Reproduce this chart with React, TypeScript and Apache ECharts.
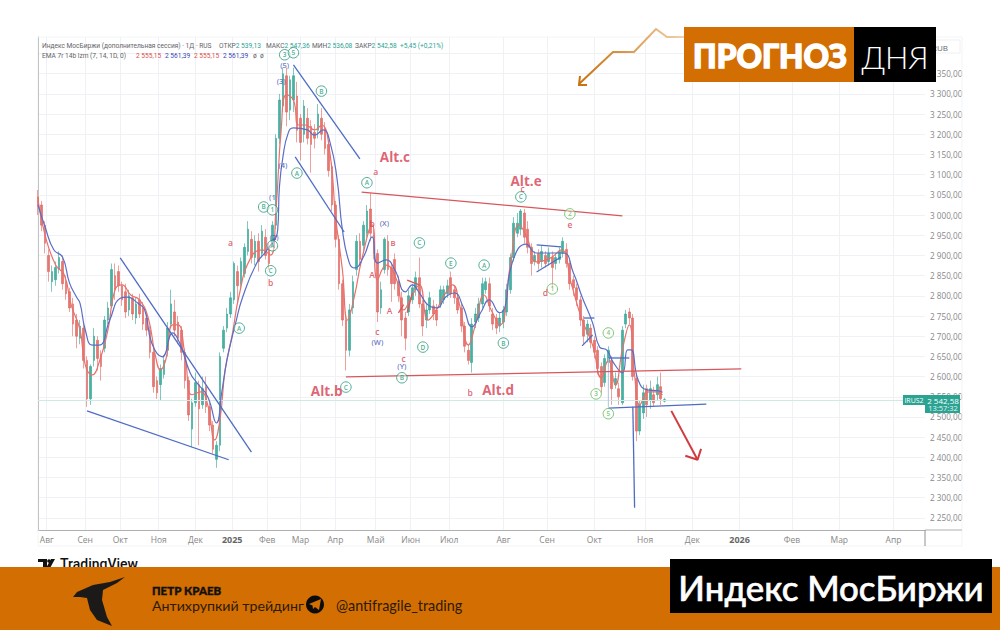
import React, { useEffect, useRef } from "react";
import * as echarts from "echarts";

// x axis is measured in trading sessions from the left edge of the pane
const SESSION_MAX = 507;
const PRICE_MIN = 2220;
const PRICE_MAX = 3441;
const CANDLE_STEP = 2;

const monthTicks: [number, string][] = [
  [5, "Авг"], [27, "Сен"], [47, "Окт"], [69, "Ноя"], [90, "Дек"], [111, "2025"], [131, "Фев"],
  [150, "Мар"], [170, "Апр"], [193, "Май"], [213, "Июн"], [235, "Июл"], [266, "Авг"], [291, "Сен"],
  [318, "Окт"], [347, "Ноя"], [374, "Дек"], [401, "2026"], [431, "Фев"], [458, "Мар"], [489, "Апр"],
];
const priceGrid = [2250, 2300, 2350, 2400, 2450, 2500, 2550, 2600, 2650, 2700, 2750, 2800, 2850, 2900, 2950, 3000, 3050, 3100, 3150, 3200, 3250, 3300, 3350, 3400];
const priceLabels = priceGrid.filter((p) => p <= 3350);

// open, close, low, high
const candles: number[][] = [
  [3045,3025,3000,3062],[3025,2975,2960,3035],[2975,2930,2905,2985],[2900,2860,2835,2915],[2835,2860,2810,2875],
  [2840,2870,2825,2885],[2865,2895,2855,2910],[2885,2830,2815,2900],[2835,2805,2790,2850],[2810,2770,2760,2820],
  [2780,2730,2700,2795],[2740,2700,2670,2755],[2695,2725,2680,2740],[2720,2640,2620,2730],[2640,2545,2525,2650],
  [2545,2625,2530,2630],[2640,2700,2625,2720],[2690,2645,2615,2700],[2655,2625,2590,2665],[2670,2740,2660,2750],
  [2740,2770,2730,2785],[2775,2865,2770,2880],[2850,2815,2790,2880],[2860,2825,2810,2875],[2825,2790,2775,2835],
  [2810,2760,2745,2830],[2765,2800,2750,2815],[2795,2755,2740,2805],[2745,2780,2730,2795],[2790,2755,2745,2805],
  [2770,2730,2715,2785],[2745,2715,2700,2760],[2715,2660,2645,2725],[2660,2575,2560,2670],[2590,2560,2545,2600],
  [2580,2620,2540,2630],[2605,2640,2595,2650],[2665,2720,2650,2735],[2730,2780,2720,2815],[2760,2715,2700,2790],
  [2735,2695,2680,2750],[2715,2660,2640,2725],[2660,2590,2570,2670],[2590,2505,2490,2600],[2470,2535,2425,2545],
  [2535,2585,2525,2610],[2580,2520,2430,2590],[2530,2570,2520,2600],[2575,2525,2510,2600],[2525,2480,2465,2535],
  [2480,2420,2410,2490],[2395,2430,2374,2440],[2430,2650,2415,2660],[2670,2715,2660,2725],[2720,2755,2710,2770],
  [2755,2795,2745,2810],[2790,2880,2780,2885],[2860,2825,2780,2875],[2830,2885,2820,2895],[2855,2920,2845,2930],
  [2910,2965,2900,2985],[2940,2895,2880,2960],[2895,2935,2875,2950],[2935,2885,2860,2955],[2905,2960,2895,2975],
  [2945,2900,2890,2965],[2920,2880,2865,2930],[2930,2975,2920,2985],[2975,3190,2965,3200],[3190,3285,3175,3300],
  [3270,3350,3255,3365],[3345,3255,3220,3365],[3260,3335,3235,3345],[3285,3345,3255,3365],[3295,3210,3180,3330],
  [3240,3180,3135,3250],[3200,3270,3180,3285],[3240,3190,3175,3265],[3220,3175,3105,3235],[3205,3190,3165,3225],
  [3210,3250,3190,3275],[3240,3200,3185,3265],[3215,3165,3150,3230],[3175,3110,3095,3185],[3120,3025,3010,3130],
  [3025,2940,2920,3035],[2940,2830,2815,2950],[2830,2740,2725,2840],[2740,2665,2615,2750],[2665,2765,2650,2780],
  [2770,2835,2755,2850],[2865,2935,2850,2950],[2935,2890,2875,2955],[2925,2975,2910,2985],[2955,3010,2945,3025],
  [3015,2955,2935,3055],[2950,2905,2890,2965],[2905,2760,2735,2915],[2770,2815,2755,2835],[2865,2940,2855,2945],
  [2935,2865,2850,2950],[2870,2830,2785,2880],[2890,2830,2815,2905],[2835,2800,2785,2850],[2795,2740,2700,2810],
  [2745,2695,2665,2760],[2760,2800,2750,2815],[2790,2820,2780,2830],[2815,2845,2800,2860],[2845,2780,2770,2895],
  [2780,2725,2700,2790],[2740,2765,2720,2780],[2765,2795,2755,2810],[2775,2755,2740,2790],[2765,2740,2725,2780],
  [2780,2815,2770,2825],[2790,2815,2780,2825],[2805,2825,2795,2840],[2845,2805,2795,2860],[2815,2795,2780,2825],
  [2795,2765,2755,2805],[2770,2725,2710,2780],[2725,2675,2660,2735],[2665,2640,2630,2680],[2635,2730,2610,2745],
  [2735,2755,2720,2770],[2745,2780,2735,2795],[2780,2830,2770,2845],[2815,2835,2805,2845],[2830,2775,2760,2845],
  [2755,2730,2715,2770],[2745,2720,2705,2755],[2725,2745,2710,2760],[2735,2765,2720,2775],[2760,2815,2750,2830],
  [2815,2895,2805,2905],[2895,2980,2885,2995],[2955,2980,2945,3005],[2965,3010,2950,3015],[3005,2945,2930,3015],
  [2965,2920,2905,2985],[2920,2880,2850,2930],[2885,2900,2875,2910],[2905,2880,2865,2915],[2885,2910,2870,2925],
  [2900,2880,2870,2910],[2885,2905,2875,2920],[2895,2870,2820,2910],[2880,2895,2865,2905],[2890,2910,2880,2920],
  [2905,2935,2895,2945],[2915,2880,2870,2930],[2880,2830,2815,2890],[2840,2820,2800,2850],[2820,2790,2775,2830],
  [2790,2740,2725,2800],[2740,2700,2680,2750],[2705,2730,2685,2740],[2720,2685,2670,2730],[2690,2660,2645,2700],
  [2665,2620,2605,2675],[2625,2575,2560,2635],[2585,2645,2575,2655],[2635,2665,2625,2675],[2640,2570,2530,2650],
  [2580,2595,2570,2610],[2570,2550,2530,2585],[2535,2715,2530,2725],[2730,2755,2720,2765],[2760,2745,2730,2770],
  [2745,2600,2590,2755],[2595,2465,2440,2605],[2465,2530,2455,2540],[2510,2560,2495,2580],[2570,2530,2500,2580],
  [2540,2570,2520,2590],[2555,2535,2525,2575],[2555,2580,2540,2600],[2575,2545,2530,2610],[2539,2543,2536,2547],
];

const ema7Points: number[][] = [
  [0,3038],[4,2951],[10,2877],[15,2852],[19,2777],[24,2716],[27,2629],[31,2604],[35,2636],[40,2716],[44,2815],[48,2827],
  [53,2802],[58,2790],[63,2745],[67,2654],[70,2617],[73,2641],[77,2728],[80,2728],[84,2654],[88,2555],[93,2562],[97,2530],
  [101,2443],[104,2493],[107,2617],[111,2703],[115,2802],[121,2889],[128,2914],[133,2901],[136,3013],[139,3211],[142,3298],
  [146,3285],[149,3223],[153,3223],[158,3211],[162,3223],[167,3149],[170,3000],[174,2864],[177,2740],[181,2802],[185,2889],
  [191,2976],[194,2839],[199,2876],[205,2839],[209,2765],[214,2802],[218,2827],[223,2740],[227,2760],[233,2807],[237,2827],
  [241,2777],[246,2678],[250,2728],[255,2802],[259,2765],[264,2728],[270,2876],[275,2976],[280,2938],[285,2884],[293,2894],
  [299,2914],[305,2827],[311,2740],[317,2678],[322,2597],[326,2641],[330,2579],[334,2666],[338,2728],[341,2604],[344,2530],
  [349,2562],[353,2562],[357,2555],
];
const ema14Points: number[][] = [
  [0,3025],[4,2971],[9,2914],[14,2896],[18,2832],[22,2797],[24,2782],[27,2716],[31,2678],[35,2678],[41,2740],[47,2794],
  [51,2797],[57,2782],[61,2765],[65,2683],[71,2649],[77,2708],[81,2683],[87,2609],[91,2584],[97,2550],[102,2485],[105,2560],
  [108,2641],[113,2733],[117,2797],[125,2881],[131,2914],[137,2963],[138,3070],[140,3144],[143,3203],[146,3216],[154,3211],
  [158,3198],[163,3211],[167,3179],[171,3087],[174,2963],[178,2881],[181,2869],[186,2896],[191,2946],[194,2881],[199,2889],
  [204,2864],[210,2810],[214,2827],[218,2807],[223,2777],[228,2770],[233,2797],[238,2807],[243,2773],[248,2723],[253,2758],
  [258,2790],[264,2758],[267,2773],[271,2881],[279,2928],[285,2906],[300,2906],[306,2857],[311,2797],[317,2733],[321,2673],
  [325,2666],[329,2634],[334,2609],[337,2666],[339,2666],[343,2592],[348,2567],[354,2565],[357,2561],
];

// session, price, session, price
const blueLines: number[][] = [
  [47,2894,122,2413],[28,2515,109,2394],[146,3372,184,3139],[147,3144,175,2958],
  [285,2926,299,2921],[285,2859,299,2896],[312,2745,318,2745],[311,2676,317,2703],
  [326,2646,338,2646],[326,2522,382,2532],[340,2525,341,2275],
];
const paleLines: number[][] = [[326,2646,326,2525]];
const redLines: number[][] = [
  [185,3057,334,2998],[176,2599,402,2619],[211,2839,218,2827],[206,2758,209,2778],[211,2758,214,2807],
];
const forecastArrow: number[][] = [[362,2515],[377,2394]];
const forecastHead: number[][] = [[370,2404],[377,2394],[379,2421]];

// label, session, price
const tealCircled: [string, number, number][] = [
  ["A",188,3080],["A",148,3104],["B",162,3307],["B",129,3020],["C",133,2862],["A",134,2924],["A",115,2720],
  ["C",218,2931],["E",236,2881],["A",255,2876],["D",220,2673],["B",266,2683],["C",276,3045],["B",208,2597],
  ["C",176,2574],["3",141,3397],["5",146,3402],["1",134,3013],
];
const greenCircled: [string, number, number][] = [
  ["2",304,3003],["1",294,2817],["4",326,2708],["3",319,2557],["5",326,2508],
];
const blueNotes: [string, number, number][] = [
  ["(5)",141,3372],["(3)",139,3332],["(1",134,3045],["(4)",140,3124],["(2)",135,2946],["(X)",198,2981],["(W)",194,2686],["(Y)",208,2626],
];
const redNotes: [string, number, number][] = [
  ["a",110,2931],["b",133,2832],["a",193,3107],["c",194,2711],["c",209,2644],["b",247,2560],["c",277,3065],
  ["d",290,2807],["e",304,2976],["в",203,2931],["A",191,2854],["A",201,2763],["b",191,2978],
];
const altNotes: [string, number, number][] = [
  ["Alt.c",204,3144],["Alt.e",279,3084],["Alt.b",165,2564],["Alt.d",263,2567],
];

const headerTitle = "Индекс МосБиржи (дополнительная сессия) · 1Д · RUS";
const headerValues: [string, string][] = [["ОТКР", "2 539,13"], ["МАКС", "2 547,36"], ["МИН", "2 536,08"], ["ЗАКР", "2 542,58"]];
const headerValueLeft = [219, 266, 312, 355];
const headerChange = "+5,45 (+0,21%)";
const emaTitle = "EMA 7r 14b lzm (7, 14, 1D, 0)";
const emaValues = ["2 555,15", "2 561,39", "2 555,15", "2 561,39"];
const emaValueLeft = [136, 165, 194, 223];
const lastPrice = 2542.58;

const ORANGE = "#d36e02";
const TEAL = "#2aa392";
const RED = "#e0605a";
const BLUE = "#4f6cc4";
const FONT = "'Open Sans', sans-serif";
const SMALL = "Roboto, sans-serif";
const HEAD_SIZE = 6.6;

const priceText = (v: number) => {
  const s = String(v);
  return s[0] + " " + s.slice(1) + ",00";
};

function notesSeries(items: [string, number, number][], opts: any) {
  return {
    type: "scatter",
    z: 8,
    silent: true,
    symbolSize: opts.circle ? 10.5 : 1,
    itemStyle: opts.circle
      ? { color: "rgba(255,255,255,0.55)", borderColor: opts.color, borderWidth: 1 }
      : { color: "transparent" },
    label: {
      show: true,
      position: "inside",
      color: opts.color,
      fontSize: opts.size,
      fontWeight: opts.weight || 400,
      fontFamily: FONT,
      formatter: (p: any) => p.data.name,
    },
    data: items.map(([name, s, p]) => ({ name, value: [s, p] })),
  };
}

function lineSeries(points: number[][], color: string, width: number, z = 6, smooth: number | boolean = false) {
  return {
    type: "line",
    z,
    silent: true,
    smooth,
    showSymbol: false,
    symbol: "none",
    lineStyle: { color, width },
    data: points,
  };
}

const segment = (l: number[]) => [[l[0], l[1]], [l[2], l[3]]];

const headText = (text: string, x: number, y: number, fill: string) => ({
  type: "text", z: 20, silent: true, x, y,
  style: { text, fill, fontSize: HEAD_SIZE, fontFamily: SMALL, verticalAlign: "middle" },
});
const headPair = (key: string, value: string, x: number, y: number) => ({
  type: "text", z: 20, silent: true, x, y,
  style: {
    text: "{k|" + key + "}{v|" + value + "}",
    verticalAlign: "middle",
    rich: {
      k: { fontSize: HEAD_SIZE, fontFamily: SMALL, fill: "#5f6368", color: "#5f6368" },
      v: { fontSize: HEAD_SIZE, fontFamily: SMALL, fill: TEAL, color: TEAL },
    },
  },
});

export default function App() {
  const ref = useRef<HTMLDivElement>(null);
  useEffect(() => {
    document.body.style.margin = "0";
    const chart = echarts.init(ref.current!, undefined, { renderer: "svg" });
    const tickValues = monthTicks.map((t) => t[0]);
    const tickLabel = new Map(monthTicks);
    const headerItems: any[] = [
      headText(headerTitle, 42, 46, "#5f6368"),
      ...headerValues.map(([k, v], i) => headPair(k, v, headerValueLeft[i], 46)),
      headText(headerChange, 400, 46, TEAL),
      headText(emaTitle, 42, 56, "#5f6368"),
      ...emaValues.map((v, i) => headText(v, emaValueLeft[i], 56, i % 2 ? "#3547b5" : "#d9504a")),
      headText("ø  ø", 253, 56, "#5f6368"),
    ];
    chart.setOption({
      animation: false,
      backgroundColor: "#ffffff",
      grid: { left: 38, right: 75, top: 37, bottom: 100 },
      xAxis: {
        type: "value",
        min: 0,
        max: SESSION_MAX,
        axisLine: { show: true, lineStyle: { color: "#b0b0b0", width: 1.2 } },
        axisTick: { show: false, customValues: tickValues },
        splitLine: { show: true, lineStyle: { color: "#eef1f5", width: 1 } },
        axisLabel: {
          customValues: tickValues,
          margin: 5,
          color: "#888",
          fontSize: 8.5,
          fontFamily: FONT,
          hideOverlap: false,
          formatter: (v: number) => {
            const t = tickLabel.get(v) || "";
            return /^\d/.test(t) ? "{y|" + t + "}" : t;
          },
          rich: { y: { fontSize: 9, fontWeight: 700, color: "#666", fontFamily: FONT } },
        },
      },
      yAxis: {
        type: "value",
        position: "right",
        min: PRICE_MIN,
        max: PRICE_MAX,
        axisLine: { show: true, lineStyle: { color: "#909090", width: 1 } },
        axisTick: { show: false, customValues: priceGrid },
        splitLine: { show: true, lineStyle: { color: "#eef1f5", width: 1 } },
        axisLabel: {
          customValues: priceLabels,
          margin: 5,
          color: "#888",
          fontSize: 8.2,
          fontFamily: FONT,
          formatter: priceText,
        },
      },
      series: [
        {
          type: "candlestick",
          z: 3,
          silent: true,
          barWidth: 2.3,
          itemStyle: { color: TEAL, color0: RED, borderColor: TEAL, borderColor0: RED, borderWidth: 0.7, opacity: 0.85 },
          data: candles.map((c, i) => [i * CANDLE_STEP, c[0], c[1], c[2], c[3]]),
          markLine: {
            silent: true,
            symbol: "none",
            label: { show: false },
            lineStyle: { color: "#cfe9e5", type: "solid", width: 1 },
            data: [{ yAxis: lastPrice }],
          },
        },
        lineSeries(ema7Points, "#e8716c", 1.2, 4, 0.5),
        lineSeries(ema14Points, "#5a6ec6", 1.2, 5, 0.5),
        ...blueLines.map((l) => lineSeries(segment(l), BLUE, 1.3)),
        ...paleLines.map((l) => lineSeries(segment(l), "#a9c6de", 1)),
        ...redLines.map((l) => lineSeries(segment(l), "#d8565c", 1.3)),
        lineSeries(forecastArrow, "#cf3b3f", 2),
        lineSeries(forecastHead, "#cf3b3f", 2),
        notesSeries(tealCircled, { circle: true, color: "#249a78", size: 6.5, weight: 600 }),
        notesSeries(greenCircled, { circle: true, color: "#62b856", size: 6.5, weight: 600 }),
        notesSeries(blueNotes, { color: "#3f59b8", size: 7.5, weight: 600 }),
        notesSeries(redNotes, { color: "#d63c50", size: 8.5, weight: 600 }),
        notesSeries(altNotes, { color: "#d63c50", size: 13.5, weight: 700 }),
      ],
      graphic: [
        { type: "rect", z: 1, silent: true, shape: { x: 38, y: 37, width: 924, height: 509 }, style: { fill: "none", stroke: "#f3f4f7" } },
        { type: "line", z: 1, silent: true, shape: { x1: 925, y1: 530, x2: 962, y2: 530 }, style: { stroke: "#b0b0b0", lineWidth: 1.2 } },
        { type: "line", z: 1, silent: true, shape: { x1: 925, y1: 530, x2: 925, y2: 546 }, style: { stroke: "#909090" } },
        { type: "rect", z: 2, silent: true, shape: { x: 928, y: 40, width: 32, height: 13 }, style: { fill: "#fff", stroke: "#eef0f3" } },
        { type: "text", z: 2, silent: true, x: 932, y: 47, style: { text: "RUB", fill: "#666", fontSize: 8, fontFamily: FONT, verticalAlign: "middle" } },
        ...headerItems,
        // last price tag
        { type: "rect", z: 20, silent: true, shape: { x: 903, y: 395, width: 22, height: 10 }, style: { fill: TEAL } },
        { type: "rect", z: 20, silent: true, shape: { x: 925, y: 395, width: 35, height: 18 }, style: { fill: TEAL } },
        { type: "text", z: 21, silent: true, x: 914, y: 400, style: { text: "IRUS2", fill: "#fff", fontSize: 7, fontFamily: FONT, align: "center", verticalAlign: "middle" } },
        { type: "text", z: 21, silent: true, x: 943, y: 400, style: { text: "2 542,58", fill: "#fff", fontSize: 8, fontFamily: FONT, align: "center", verticalAlign: "middle" } },
        { type: "text", z: 21, silent: true, x: 943, y: 408, style: { text: "13:57:32", fill: "#e6f4f2", fontSize: 7.5, fontFamily: FONT, align: "center", verticalAlign: "middle" } },
        // decorative rising arrow
        {
          type: "polyline", z: 30, silent: true,
          shape: { points: [[579, 84], [613, 52], [634, 52], [656, 29], [667, 37], [690, 37]] },
          style: {
            fill: "none", lineWidth: 2,
            stroke: { type: "linear", x: 0, y: 0, x2: 1, y2: 0, colorStops: [{ offset: 0, color: "#c8730f" }, { offset: 0.45, color: "#dc9a50" }, { offset: 1, color: "#f3d8b8" }] },
          },
        },
        { type: "polyline", z: 30, silent: true, shape: { points: [[580, 76], [579, 85], [587, 85]] }, style: { fill: "none", stroke: "#c8730f", lineWidth: 2 } },
        // day forecast banner
        { type: "rect", z: 40, silent: true, shape: { x: 684, y: 27, width: 171, height: 55 }, style: { fill: ORANGE } },
        { type: "rect", z: 40, silent: true, shape: { x: 854, y: 27, width: 82, height: 55 }, style: { fill: "#000" } },
        { type: "text", z: 41, silent: true, x: 770, y: 56, style: { text: "ПРОГНОЗ", fill: "#fff", stroke: "#fff", lineWidth: 1.4, fontSize: 31.5, fontWeight: 900, fontFamily: "Lato, sans-serif", align: "center", verticalAlign: "middle" } },
        { type: "text", z: 41, silent: true, x: 895, y: 57, style: { text: "ДНЯ", fill: "#fff", fontSize: 31, fontWeight: 300, fontFamily: "Lato, sans-serif", align: "center", verticalAlign: "middle" } },
        // TradingView mark, cut off by the band below
        { type: "polygon", z: 30, silent: true, shape: { points: [[38, 559], [47, 559], [47, 568], [43, 568], [43, 562], [38, 562]] }, style: { fill: "#111" } },
        { type: "circle", z: 30, silent: true, shape: { cx: 49, cy: 561, r: 1.8 }, style: { fill: "#111" } },
        { type: "polygon", z: 30, silent: true, shape: { points: [[51, 559], [55, 559], [50, 568], [46, 568]] }, style: { fill: "#111" } },
        { type: "text", z: 30, silent: true, x: 60, y: 564, style: { text: "TradingView", fill: "#111", fontSize: 14, fontWeight: 500, fontFamily: "Roboto, sans-serif", verticalAlign: "middle" } },
        // bottom band
        { type: "rect", z: 40, silent: true, shape: { x: 0, y: 567, width: 1000, height: 63 }, style: { fill: ORANGE } },
        { type: "rect", z: 41, silent: true, shape: { x: 670, y: 559, width: 322, height: 54 }, style: { fill: "#000" } },
        { type: "text", z: 42, silent: true, x: 831, y: 587, style: { text: "Индекс МосБиржи", fill: "#fff", stroke: "#fff", lineWidth: 0.6, fontSize: 34.8, fontWeight: 500, fontFamily: "Lato, sans-serif", align: "center", verticalAlign: "middle" } },
        { type: "text", z: 42, silent: true, x: 152, y: 590, style: { text: "ПЕТР КРАЕВ", fill: "#111", stroke: "#111", lineWidth: 0.4, fontSize: 11.5, fontWeight: 900, fontFamily: "Lato, sans-serif", verticalAlign: "middle" } },
        { type: "text", z: 42, silent: true, x: 152, y: 605, style: { text: "Антихрупкий трейдинг", fill: "#2b1a05", fontSize: 14.2, fontFamily: "Lato, sans-serif", verticalAlign: "middle" } },
        { type: "circle", z: 42, silent: true, shape: { cx: 315, cy: 604.5, r: 9 }, style: { fill: "#0c0c0c" } },
        { type: "polygon", z: 43, silent: true, shape: { points: [[309, 604], [321, 599], [319, 610], [315, 607], [313, 609], [312.5, 605.5]] }, style: { fill: ORANGE } },
        { type: "text", z: 42, silent: true, x: 336, y: 605, style: { text: "@antifragile_trading", fill: "#2b1a05", fontSize: 14.4, fontFamily: "Lato, sans-serif", verticalAlign: "middle" } },
        // goose silhouette
        {
          type: "polygon", z: 42, silent: true,
          shape: { points: [[125, 577], [110, 582], [93, 585], [77, 592], [73, 597], [80, 597], [87, 598], [90, 610], [97, 620], [112, 626], [107, 617], [102, 600], [103, 590], [117, 583]] },
          style: { fill: "#1c1a18" },
        },
      ],
    });
    return () => chart.dispose();
  }, []);
  return <div ref={ref} style={{ position: "fixed", left: 0, top: 0, width: 1000, height: 630 }} />;
}
